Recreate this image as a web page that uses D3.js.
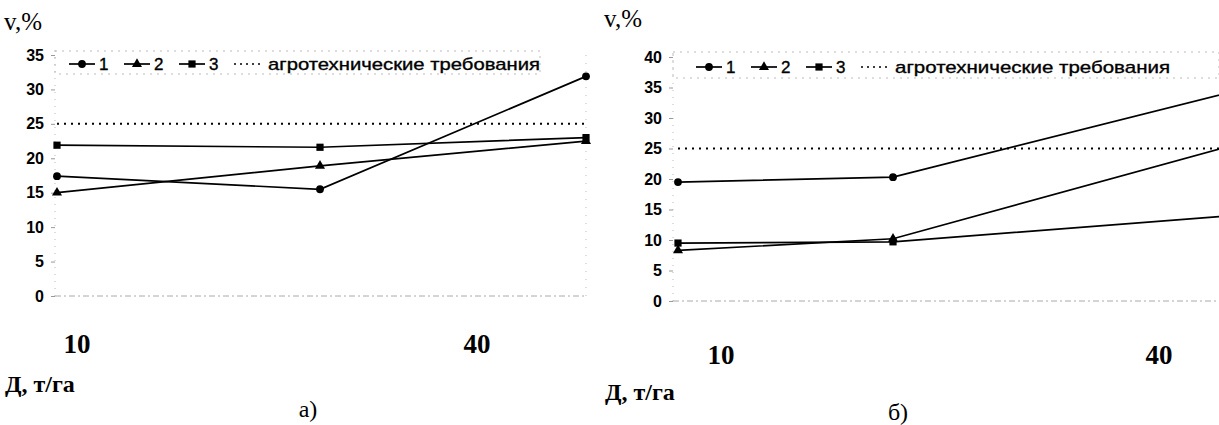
<!DOCTYPE html>
<html>
<head>
<meta charset="utf-8">
<script src="https://cdn.jsdelivr.net/npm/d3@7"></script>
<style>
html,body{margin:0;padding:0;background:#fff;}
svg{display:block;}
</style>
</head>
<body>
<svg id="chart" width="1219" height="425"></svg>
<script>
// ---- data ----
const doses = [10, 25, 40];
const seriesNames = ["1", "2", "3"];
const leftSeries1 = [17.4, 15.5, 31.9];
const leftSeries2 = [15.0, 18.9, 22.5];
const leftSeries3 = [21.9, 21.6, 23.0];
const rightSeries1 = [19.5, 20.3, 34.3];
const rightSeries2 = [8.3, 10.2, 25.5];
const rightSeries3 = [9.5, 9.7, 14.0];
const agroLimit = 25;
const leftTicks = [0, 5, 10, 15, 20, 25, 30, 35];
const rightTicks = [0, 5, 10, 15, 20, 25, 30, 35, 40];
const xTickLabels = [10, 40];
const legendText = "агротехнические требования";
const yTitle = "v,%";
const xTitle = "Д, т/га";
const panelLetters = ["а)", "б)"];

// ---- layout ----
const svg = d3.select("#chart");
const panels = [
  { s: [leftSeries1, leftSeries2, leftSeries3], ticks: leftTicks, ymax: 35,
    xr: [57, 320, 586], yr: [296, 55], axisX: 55, frameR: 586, frameT: 50, lblX: [77, 477], lblY: 353,
    ytX: 4, ytY: 30, xtX: 5, xtY: 392, letX: 308, letY: 417,
    leg: { x: 69, y: 64, box: [55, 51, 540, 74], textEnd: 540 } },
  { s: [rightSeries1, rightSeries2, rightSeries3], ticks: rightTicks, ymax: 40,
    xr: [678, 893, 1232], yr: [301, 57], axisX: 673, frameR: 1219, frameT: 50, lblX: [721, 1159], lblY: 364,
    ytX: 604, ytY: 27, xtX: 605, xtY: 400, letX: 898, letY: 420,
    leg: { x: 696, y: 67, box: [673, 52, 1219, 78], textEnd: 1170 } }
];

const markers = [
  d3.symbol().type(d3.symbolCircle).size(48),
  d3.symbol().type(d3.symbolTriangle).size(44),
  d3.symbol().type(d3.symbolSquare).size(52)
];

panels.forEach((p, pi) => {
  const g = svg.append("g");
  const x = d3.scaleLinear().domain(doses).range(p.xr);
  const y = d3.scaleLinear().domain([0, p.ymax]).range(p.yr);
  const clipId = "clip" + pi;
  svg.append("clipPath").attr("id", clipId).append("rect")
    .attr("x", p.axisX - 10).attr("y", 0).attr("width", 1219 - p.axisX + 10).attr("height", 425);

  // frame (faint)
  g.append("line").attr("x1", p.axisX).attr("x2", p.frameR).attr("y1", y(0)).attr("y2", y(0))
    .attr("stroke", "#aaa").attr("stroke-width", 1).attr("stroke-dasharray", "6,3,2,3");
  g.append("line").attr("x1", p.axisX).attr("x2", p.axisX).attr("y1", y(0)).attr("y2", p.frameT)
    .attr("stroke", "#bbb").attr("stroke-width", 1).attr("stroke-dasharray", "1,6");
  if (pi === 0) {
    g.append("line").attr("x1", p.frameR).attr("x2", p.frameR).attr("y1", y(0)).attr("y2", p.frameT)
      .attr("stroke", "#bbb").attr("stroke-width", 1).attr("stroke-dasharray", "1,7");
  }

  // y axis
  const yAxis = d3.axisLeft(y).tickValues(p.ticks).tickSize(4).tickPadding(7);
  const ya = g.append("g").attr("transform", `translate(${p.axisX},0)`).call(yAxis);
  ya.select(".domain").remove();
  ya.selectAll(".tick line").attr("stroke", "#999");
  ya.selectAll(".tick text").attr("font-family", "Liberation Sans, Arial, sans-serif")
    .attr("font-weight", "bold").attr("font-size", 16).attr("fill", "#000");

  // agro line
  g.append("line").attr("x1", x(doses[0])).attr("x2", Math.min(p.frameR, 1219)).attr("y1", y(agroLimit)).attr("y2", y(agroLimit))
    .attr("stroke", "#000").attr("stroke-width", 2).attr("stroke-dasharray", "2,5");

  // series
  const line = d3.line().x((d, i) => x(doses[i])).y(d => y(d));
  const sg = g.append("g").attr("clip-path", `url(#${clipId})`);
  p.s.forEach((vals, si) => {
    sg.append("path").attr("d", line(vals)).attr("fill", "none").attr("stroke", "#000").attr("stroke-width", 1.7);
    sg.selectAll(null).data(vals).enter().append("path")
      .attr("d", markers[si]).attr("transform", (d, i) => `translate(${x(doses[i])},${y(d)})`).attr("fill", "#000");
  });

  // legend
  const lg = g.append("g");
  lg.append("rect").attr("x", p.leg.box[0]).attr("y", p.leg.box[1]).attr("width", p.leg.box[2] - p.leg.box[0])
    .attr("height", p.leg.box[3] - p.leg.box[1]).attr("fill", "none").attr("stroke", "#bbb").attr("stroke-dasharray", "2,5");
  let lx = p.leg.x;
  seriesNames.forEach((nm, si) => {
    lg.append("line").attr("x1", lx).attr("x2", lx + 26).attr("y1", p.leg.y).attr("y2", p.leg.y).attr("stroke", "#000").attr("stroke-width", 1.7);
    lg.append("path").attr("d", markers[si]).attr("transform", `translate(${lx + 13},${p.leg.y})`);
    lg.append("text").attr("x", lx + 30).attr("y", p.leg.y + 6).text(nm)
      .attr("font-family", "Liberation Sans, Arial, sans-serif").attr("font-size", 17)
      .attr("stroke", "#000").attr("stroke-width", 0.35);
    lx += 55;
  });
  lg.append("line").attr("x1", lx).attr("x2", lx + 28).attr("y1", p.leg.y).attr("y2", p.leg.y)
    .attr("stroke", "#000").attr("stroke-width", 1.5).attr("stroke-dasharray", "2,4");
  lg.append("text").attr("x", lx + 34).attr("y", p.leg.y + 6).text(legendText)
    .attr("font-family", "Liberation Sans, Arial, sans-serif").attr("font-size", 17)
    .attr("stroke", "#000").attr("stroke-width", 0.35)
    .attr("textLength", p.leg.textEnd - (lx + 34)).attr("lengthAdjust", "spacingAndGlyphs");

  // x labels
  const xl = d3.scaleLinear().domain([xTickLabels[0], xTickLabels[1]]).range(p.lblX);
  xTickLabels.forEach(v => {
    g.append("text").attr("x", xl(v)).attr("y", p.lblY).attr("text-anchor", "middle").text(v)
      .attr("font-family", "Liberation Serif, Times New Roman, serif").attr("font-weight", "bold").attr("font-size", 27);
  });
  g.append("text").attr("x", p.xtX).attr("y", p.xtY).text(xTitle)
    .attr("font-family", "Liberation Serif, Times New Roman, serif").attr("font-weight", "bold").attr("font-size", 24);
  g.append("text").attr("x", p.ytX).attr("y", p.ytY).text(yTitle)
    .attr("font-family", "Liberation Serif, Times New Roman, serif").attr("font-size", 25);
  g.append("text").attr("x", p.letX).attr("y", p.letY).attr("text-anchor", "middle").text(panelLetters[pi])
    .attr("font-family", "Liberation Serif, Times New Roman, serif").attr("font-size", 24);
});
</script>
</body>
</html>
